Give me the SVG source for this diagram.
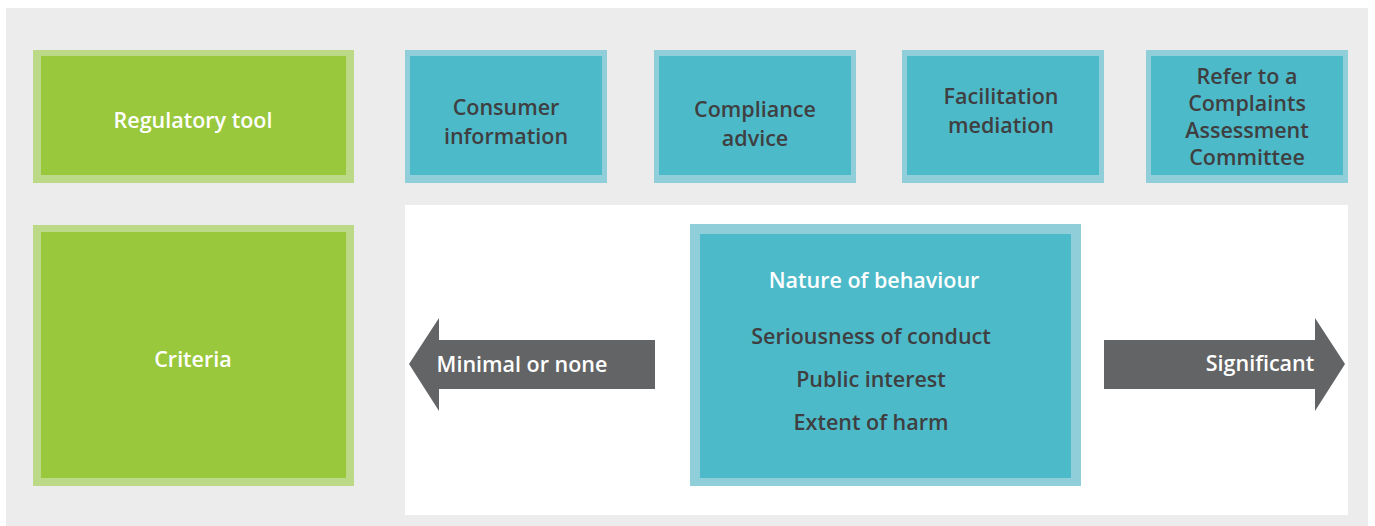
<svg xmlns="http://www.w3.org/2000/svg" width="1375" height="526" viewBox="0 0 1375 526">
<style>
.bg{fill:#ebeceb}
.panel{fill:#ffffff}
.gOut{fill:#bbd986}
.gIn{fill:#99c83c}
.tOut{fill:#90cfd9}
.tIn{fill:#4dbac9}
.arrow{fill:#636466}
text{font-family:"Open Sans","Liberation Sans",sans-serif;font-weight:600;font-size:21.5px;text-anchor:middle}
.w{fill:#ffffff}
.d{fill:#3f3f41}
</style>
<rect class="bg" x="6" y="8" width="1362" height="518"/>
<rect class="panel" x="405" y="205" width="943" height="310"/>

<g id="regulatory-tool">
<rect class="gOut" x="33" y="50" width="321" height="133"/>
<rect class="gIn" x="41" y="56" width="305" height="119"/>
<text class="w" x="193" y="128">Regulatory tool</text>
</g>

<g id="criteria">
<rect class="gOut" x="33" y="225" width="321" height="261"/>
<rect class="gIn" x="41" y="232" width="305" height="246"/>
<text class="w" x="193" y="367">Criteria</text>
</g>

<g id="consumer-information">
<rect class="tOut" x="405" y="50" width="202" height="133"/>
<rect class="tIn" x="410" y="56" width="192" height="119"/>
<text class="d" x="506" y="115">Consumer</text>
<text class="d" x="506" y="144">information</text>
</g>

<g id="compliance-advice">
<rect class="tOut" x="654" y="50" width="202" height="133"/>
<rect class="tIn" x="659" y="56" width="192" height="119"/>
<text class="d" x="755" y="117">Compliance</text>
<text class="d" x="755" y="146">advice</text>
</g>

<g id="facilitation-mediation">
<rect class="tOut" x="902" y="50" width="202" height="133"/>
<rect class="tIn" x="907" y="56" width="192" height="119"/>
<text class="d" x="1001" y="104">Facilitation</text>
<text class="d" x="1001" y="133">mediation</text>
</g>

<g id="refer-committee">
<rect class="tOut" x="1146" y="50" width="202" height="133"/>
<rect class="tIn" x="1151" y="56" width="192" height="119"/>
<text class="d" x="1247" y="84">Refer to a</text>
<text class="d" x="1247" y="111">Complaints</text>
<text class="d" x="1247" y="138">Assessment</text>
<text class="d" x="1247" y="165">Committee</text>
</g>

<g id="nature-of-behaviour">
<rect class="tOut" x="690" y="224" width="391" height="262"/>
<rect class="tIn" x="700" y="234" width="371" height="244"/>
<text class="w" x="874" y="288">Nature of behaviour</text>
<text class="d" x="871" y="344">Seriousness of conduct</text>
<text class="d" x="871" y="387">Public interest</text>
<text class="d" x="871" y="430">Extent of harm</text>
</g>

<g id="connectors">
<g id="arrow-minimal">
<polygon class="arrow" points="409,364 439,318 439,340 655,340 655,389 439,389 439,411"/>
<text class="w" x="522" y="372">Minimal or none</text>
</g>
<g id="arrow-significant">
<polygon class="arrow" points="1345,364 1315,318 1315,340 1104,340 1104,389 1315,389 1315,411"/>
<text class="w" x="1260" y="371">Significant</text>
</g>
</g>
</svg>
